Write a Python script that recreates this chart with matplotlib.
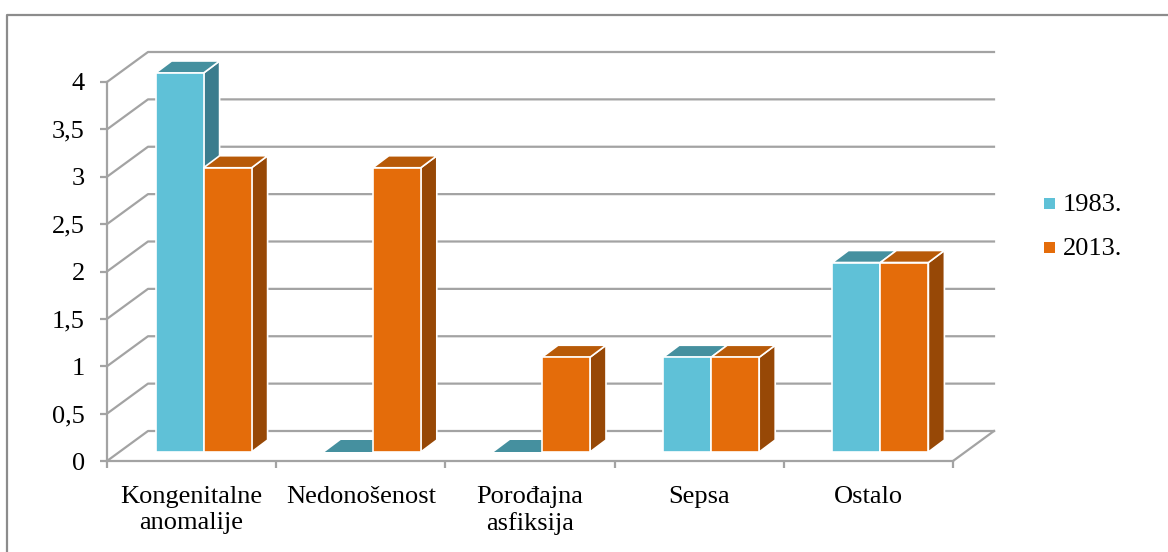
import matplotlib

matplotlib.use("Agg")
import matplotlib.pyplot as plt
from matplotlib.patches import Polygon, Rectangle
from matplotlib.lines import Line2D

W, H = 1168, 552

categories = ["Kongenitalne\nanomalije", "Nedonošenost", "Porođajna\nasfiksija", "Sepsa", "Ostalo"]
series_names = ["1983.", "2013."]
values_1983 = [4, 0, 0, 1, 2]
values_2013 = [3, 3, 1, 1, 2]
y_ticks = [0, 0.5, 1, 1.5, 2, 2.5, 3, 3.5, 4]
y_labels = ["0", "0,5", "1", "1,5", "2", "2,5", "3", "3,5", "4"]

front = ["#5fc1d7", "#e46c0a"]
side = ["#3b7c8d", "#974806"]
top = ["#45909f", "#b85a08"]
GRID = "#a3a3a3"
FONT = 19

plt.rcParams["font.family"] = ["Liberation Serif", "DejaVu Serif"]

fig = plt.figure(figsize=(W / 100, H / 100), dpi=100)

# axis plane of the fake 3d chart, in pixels
left, right, bottom, upper = 107, 953, 461, 82
ax = fig.add_axes([left / W, 1 - bottom / H, (right - left) / W, (bottom - upper) / H])
ax.set_xlim(0, 5)
ax.set_ylim(0, 4)
ax.patch.set_alpha(0)
for s in ax.spines.values():
    s.set_visible(False)

px = 5 / (right - left)
py = 4 / (bottom - upper)


def depth(x, y, dx, dy):
    return x + dx * px, y + dy * py


# back wall, side wall and floor
wall_dx, wall_dy = 41, 30
for t in y_ticks:
    bx, by = depth(0, t, wall_dx, wall_dy)
    ex, ey = depth(5, t, wall_dx, wall_dy)
    ax.plot([0, bx, ex], [t, by, ey], color=GRID, lw=1.6, clip_on=False, zorder=1)
ax.plot([0, 0], [0, 4], color=GRID, lw=1.6, clip_on=False, zorder=1)
ax.plot([0, 5], [0, 0], color=GRID, lw=1.6, clip_on=False, zorder=1)
fx, fy = depth(5, 0, wall_dx, wall_dy)
ax.plot([5, fx], [0, fy], color=GRID, lw=1.6, clip_on=False, zorder=1)

ax.set_yticks(y_ticks, y_labels, fontsize=FONT, color="black")
ax.set_xticks(range(6), [""] * 6)
ax.tick_params(axis="both", color=GRID, width=1.6, length=5)
ax.tick_params(axis="y", pad=11)
for i, name in enumerate(categories):
    ax.text(i + 0.5, -0.26, name, ha="center", va="top", fontsize=FONT, linespacing=1.25)

# bars, offset into the depth of the chart
bar_w = 48 * px
off_x, off_y = 12 * px, 9 * py
cube_x, cube_y = 16 * px, 12 * py
for k, vals in enumerate([values_1983, values_2013]):
    for i, v in enumerate(vals):
        x0 = i + 0.5 + off_x + (k - 1) * bar_w
        x1 = x0 + bar_w
        y0 = off_y
        y1 = off_y + v
        edge = "white" if v > 0 else "none"
        z = 3 + i * 2 + k * 0.5
        ax.add_patch(Polygon([(x1, y0), (x1 + cube_x, y0 + cube_y), (x1 + cube_x, y1 + cube_y), (x1, y1)],
                             fc=side[k], ec=edge, lw=1.2, clip_on=False, zorder=z))
        ax.add_patch(Polygon([(x0, y1), (x0 + cube_x, y1 + cube_y), (x1 + cube_x, y1 + cube_y), (x1, y1)],
                             fc=top[k], ec=edge, lw=1.2, clip_on=False, zorder=z))
        if v > 0:
            ax.bar(x0, v, bar_w, bottom=y0, align="edge", color=front[k], edgecolor="white", lw=1.2,
                   clip_on=False, zorder=z + 0.1)

# legend
for k, name in enumerate(series_names):
    y = 203 + k * 44
    fig.patches.append(Rectangle((1044 / W, 1 - (y + 5.5) / H), 11 / W, 11 / H, transform=fig.transFigure,
                                 fc=front[k], ec="none"))
    fig.text(1063 / W, 1 - (y + 2) / H, name, fontsize=FONT, va="center", ha="left")

# chart border, only top and left are inside the crop
border = Line2D([7 / W, 7 / W, 1], [0, 1 - 15 / H, 1 - 15 / H], transform=fig.transFigure,
                color="#8c8c8c", lw=1.6)
fig.add_artist(border)

fig.savefig("out.png", dpi=100)
